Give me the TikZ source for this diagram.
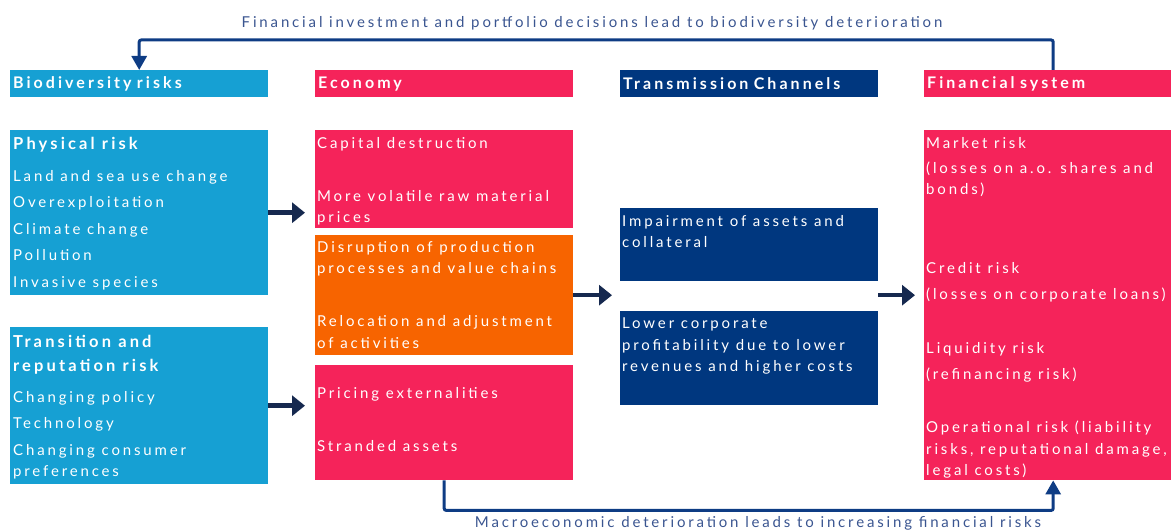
\documentclass[tikz,border=0pt]{standalone}
\usepackage{fontspec}
\setmainfont[LetterSpace=19]{Lato}
\usetikzlibrary{arrows.meta,positioning}

\definecolor{biob}{HTML}{16A0D3}
\definecolor{ecor}{HTML}{F5235A}
\definecolor{ecoo}{HTML}{F76400}
\definecolor{tcb}{HTML}{00377F}
\definecolor{navy}{HTML}{16294F}
\definecolor{loopb}{HTML}{0E3C84}
\definecolor{capb}{HTML}{3A5590}

\tikzset{
  box/.style={rectangle,inner sep=0pt,anchor=north west,minimum width=258pt},
  head/.style={anchor=north west,inner sep=3pt,text width=252pt,minimum height=27pt,
    align=left,text=white,font=\fontsize{16}{18}\selectfont\bfseries},
  txt/.style={anchor=north west,inner sep=0pt,text=white,align=left,
    font=\fontsize{15}{21.5}\selectfont,execute at begin node={\rule{0pt}{15pt}}},
  hd/.style={txt,font=\fontsize{16.5}{24}\selectfont\bfseries},
  flow/.style={draw=navy,line width=4.5pt,-{Triangle[length=13pt,width=20pt]}},
  loopline/.style={draw=loopb,line width=3pt,rounded corners=2pt,
    -{Triangle[length=14pt,width=15pt]}},
  caption/.style={text=capb,font=\fontsize{15}{16}\selectfont,inner sep=0pt}
}

\begin{document}
\begin{tikzpicture}[x=1pt,y=-1pt]
  \useasboundingbox (0,0) rectangle (1171,532);

  % column headers
  \node[head,fill=biob] (bdhead) at (10,70) {Biodiversity risks};
  \node[head,fill=ecor] (ecohead) at (315,70) {Economy};
  \node[head,fill=tcb] (tchead) at (620,70) {Transmission Channels};
  \node[head,fill=ecor] (fshead) at (924,70) {Financial system};

  % boxes
  \node[box,fill=biob,minimum height=165pt] (physbox) at (10,130) {};
  \node[box,fill=biob,minimum height=157pt] (transbox) at (10,327) {};
  \node[box,fill=ecor,minimum height=98pt] (red1) at (315,130) {};
  \node[box,fill=ecoo,minimum height=120pt] (orange) at (315,235) {};
  \node[box,fill=ecor,minimum height=115pt] (red2) at (315,365) {};
  \node[box,fill=tcb,minimum height=73pt] (impair) at (620,208) {};
  \node[box,fill=tcb,minimum height=94pt] (lower) at (620,311) {};
  \node[box,fill=ecor,minimum height=350pt] (fsbox) at (924,130) {};

  % texts
  \node[hd] (physhd) at (13,134.5) {Physical risk};
  \node[txt] (physlist) at (13,170) {Land and sea use change\\[5pt]Overexploitation\\[5pt]Climate change\\[5pt]Pollution\\[5pt]Invasive species};
  \node[hd] (transhd) at (13,335) {Transition and\\reputation risk};
  \node[txt] (translist) at (13,391) {Changing policy\\[5pt]Technology\\[5pt]Changing consumer\\preferences};
  \node[txt] (red1txt) at (317,137) {Capital destruction\\[31.5pt]More volatile raw material\\prices};
  \node[txt] (orangetxt) at (317,241) {Disruption of production\\processes and value chains\\[31.5pt]Relocation and adjustment\\of activities};
  \node[txt] (red2txt) at (317,387) {Pricing externalities\\[31.5pt]Stranded assets};
  \node[txt] (impairtxt) at (622,215) {Impairment of assets and\\collateral};
  \node[txt] (lowertxt) at (622,318) {Lower corporate\\profitability due to lower\\revenues and higher costs};
  \node[txt] (fstxt) at (926,137) {Market risk\\[3.5pt](losses on a.o. shares and\\bonds)\\[57.5pt]Credit risk\\[4.5pt](losses on corporate loans)\\[32.5pt]Liquidity risk\\[4.5pt](refinancing risk)\\[31.5pt]Operational risk (liability\\risks, reputational damage,\\legal costs)};

  % feedback loops
  \node[caption] (topcap) at (592,23) {Financial investment and portfolio decisions lead to biodiversity deterioration};
  \node[caption] (botcap) at (758,523) {Macroeconomic deterioration leads to increasing financial risks};
  \draw[loopline] (fshead.north) -- ++(0,-30) -| (bdhead.north);
  \draw[loopline] (red2.south) -- ++(0,30) -| (fsbox.south);

  % flows
  \draw[flow,shorten >=10pt] (physbox.east) -- (physbox.east -| red1.west);
  \draw[flow,shorten >=10pt] (transbox.east) -- (transbox.east -| red2.west);
  \draw[flow,shorten >=8pt] (orange.east) -- (orange.east -| impair.west);
  \draw[flow,shorten >=9pt] (orange.east -| impair.east) -- (orange.east -| fsbox.west);
\end{tikzpicture}
\end{document}
